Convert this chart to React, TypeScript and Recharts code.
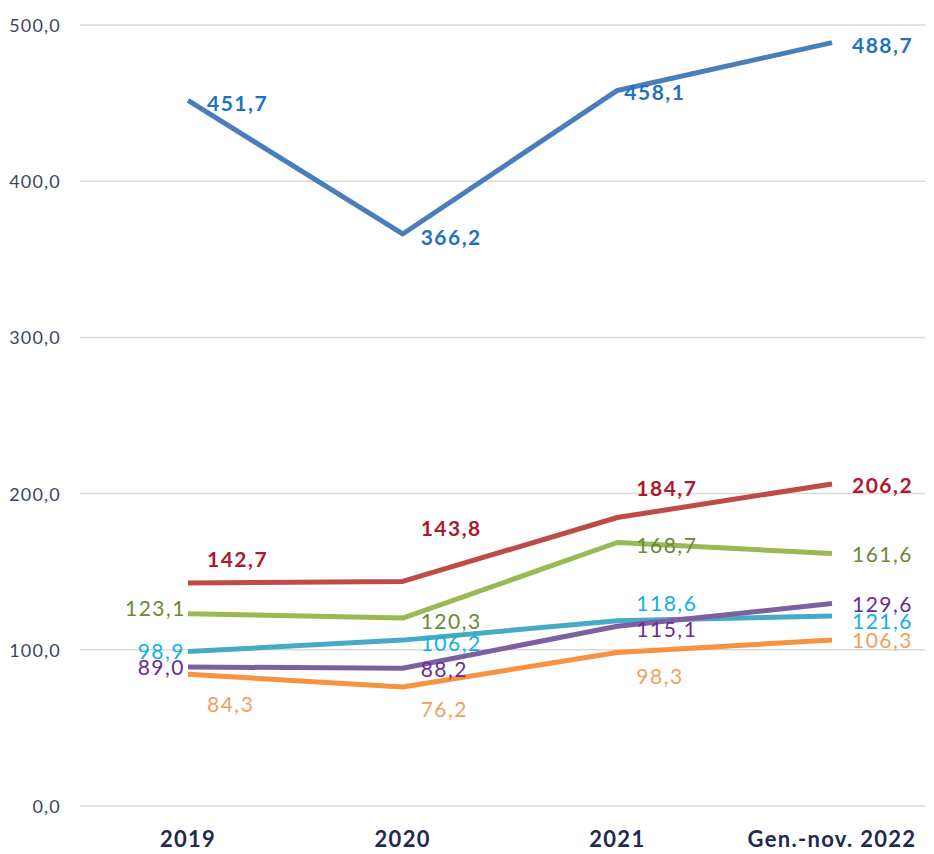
import React from 'react';
import { LineChart, Line, XAxis, YAxis, CartesianGrid, LabelList } from 'recharts';

const periods = ['2019', '2020', '2021', 'Gen.-nov. 2022'];
const yTicks = [0, 100, 200, 300, 400, 500];

const blueValues = [451.7, 366.2, 458.1, 488.7];
const redValues = [142.7, 143.8, 184.7, 206.2];
const greenValues = [123.1, 120.3, 168.7, 161.6];
const cyanValues = [98.9, 106.2, 118.6, 121.6];
const purpleValues = [89.0, 88.2, 115.1, 129.6];
const orangeValues = [84.3, 76.2, 98.3, 106.3];

// label placement per point: [dx, dy, anchor]
type Place = [number, number, 'start' | 'end'];
const bluePlace: Place[] = [[19, 2, 'start'], [18, 3, 'start'], [7, 1, 'start'], [20, 2, 'start']];
const redPlace: Place[] = [[19, -25, 'start'], [18, -54, 'start'], [19, -30, 'start'], [20, 1, 'start']];
const greenPlace: Place[] = [[-2, -6, 'end'], [18, 2, 'start'], [19, 2, 'start'], [20, 0, 'start']];
const cyanPlace: Place[] = [[-3, -1, 'end'], [18, 2, 'start'], [19, -18, 'start'], [20, 4, 'start']];
const purplePlace: Place[] = [[-3, 0, 'end'], [18, 0, 'start'], [19, 2, 'start'], [20, 0, 'start']];
const orangePlace: Place[] = [[19, 29, 'start'], [18, 22, 'start'], [19, 23, 'start'], [20, 0, 'start']];

const data = periods.map((p, i) => ({
  period: p,
  blue: blueValues[i],
  red: redValues[i],
  green: greenValues[i],
  cyan: cyanValues[i],
  purple: purpleValues[i],
  orange: orangeValues[i],
}));

const series = [
  { key: 'blue', stroke: '#4A7EBB', text: '#1F72C0', bold: true, place: bluePlace },
  { key: 'red', stroke: '#BE4B48', text: '#B0182B', bold: true, place: redPlace },
  { key: 'green', stroke: '#98B954', text: '#6B8838', bold: false, place: greenPlace },
  { key: 'cyan', stroke: '#46AAC5', text: '#10B0E8', bold: false, place: cyanPlace },
  { key: 'purple', stroke: '#7D60A0', text: '#6A2C98', bold: false, place: purplePlace },
  { key: 'orange', stroke: '#F69240', text: '#F0A060', bold: false, place: orangePlace },
];

const fmt = (v: number) => v.toFixed(1).replace('.', ',');
const FONT = 'Lato, "Open Sans", sans-serif';

const makeLabel = (color: string, bold: boolean, place: Place[]) => (props: any) => {
  const { x, y, value, index } = props;
  const [dx, dy, anchor] = place[index];
  return (
    <text
      x={x + dx}
      y={y + dy}
      textAnchor={anchor}
      dominantBaseline="central"
      fill={color}
      fontFamily={FONT}
      fontSize={21}
      fontWeight={bold ? 700 : 400}
      letterSpacing={1.5}
    >
      {fmt(value)}
    </text>
  );
};

const XTick = (props: any) => {
  const { x, y, payload } = props;
  return (
    <text x={x} y={y + 33} textAnchor="middle" fill="#1F2A4E" fontFamily={FONT} fontSize={22} fontWeight={700} letterSpacing={1.3}>
      {payload.value}
    </text>
  );
};

const YTick = (props: any) => {
  const { x, y, payload } = props;
  return (
    <text x={x} y={y} textAnchor="end" dominantBaseline="central" fill="#3A4660" fontFamily={FONT} fontSize={18} letterSpacing={1.2}>
      {fmt(payload.value)}
    </text>
  );
};

export default function App() {
  return (
    <div style={{ position: 'absolute', left: 0, top: 0, width: 934, height: 854, background: '#fff' }}>
      <LineChart width={934} height={854} data={data} margin={{ top: 25, right: 9, bottom: 0, left: 0 }}>
        <CartesianGrid vertical={false} stroke="#D9D9D9" strokeWidth={1.5} />
        <XAxis
          dataKey="period"
          axisLine={false}
          tickLine={false}
          height={48}
          padding={{ left: 108, right: 93 }}
          tick={<XTick />}
          interval={0}
        />
        <YAxis
          domain={[0, 500]}
          ticks={yTicks}
          axisLine={false}
          tickLine={false}
          width={80}
          tickSize={0}
          tickMargin={19}
          tick={<YTick />}
        />
        {series.map(s => (
          <Line
            key={s.key}
            dataKey={s.key}
            stroke={s.stroke}
            strokeWidth={5}
            dot={false}
            activeDot={false}
            isAnimationActive={false}
            strokeLinejoin="round"
          >
            <LabelList dataKey={s.key} content={makeLabel(s.text, s.bold, s.place)} />
          </Line>
        ))}
      </LineChart>
    </div>
  );
}
